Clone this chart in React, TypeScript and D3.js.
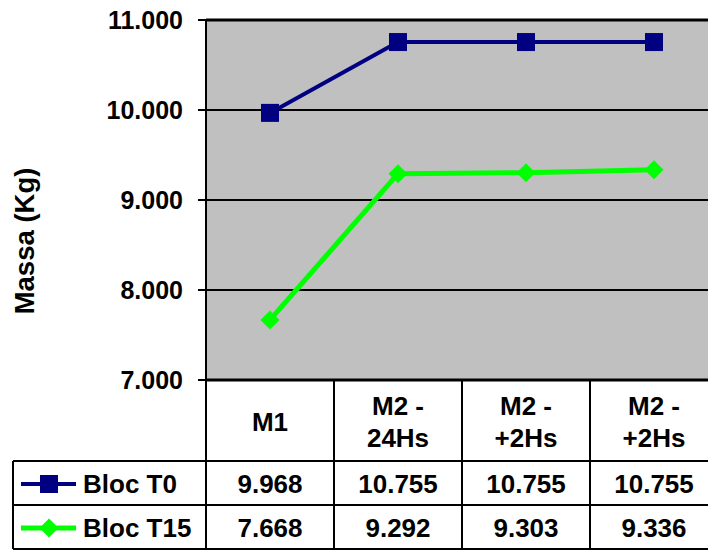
import React from "react";
import * as d3 from "d3";

const categories: string[][] = [["M1"], ["M2 -", "24Hs"], ["M2 -", "+2Hs"], ["M2 -", "+2Hs"]];
const seriesNames = ["Bloc T0", "Bloc T15"];
const blocT0 = [9.968, 10.755, 10.755, 10.755];
const blocT15 = [7.668, 9.292, 9.303, 9.336];
const yTicks = [7, 8, 9, 10, 11];

const W = 708;
const H = 550;
const FONT = "'Liberation Sans', Arial, sans-serif";

export default function App() {
  const plotLeft = 206;
  const plotTop = 20;
  const plotBottom = 380;
  const colWidth = 128;
  const headerBottom = 461;
  const row1Bottom = 505;
  const row2Bottom = 549;
  const legendLeft = 13;

  const idx = categories.map((_, i) => String(i));
  const x = d3
    .scaleBand<string>()
    .domain(idx)
    .range([plotLeft, plotLeft + colWidth * categories.length]);
  const y = d3.scaleLinear().domain([7, 11]).range([plotBottom, plotTop]);
  const cx = (i: number) => (x(String(i)) as number) + x.bandwidth() / 2;

  const line = d3
    .line<number>()
    .x((_, i) => cx(i))
    .y((d) => y(d));

  const fmt = d3.format(".3f");
  const right = plotLeft + colWidth * categories.length;

  const series = [
    { name: seriesNames[0], values: blocT0, color: "#000080", width: 4, marker: "square" },
    { name: seriesNames[1], values: blocT15, color: "#00FF00", width: 5, marker: "diamond" },
  ];

  const marker = (kind: string, px: number, py: number, color: string, key: string) => {
    if (kind === "square") {
      return <rect key={key} x={px - 9} y={py - 9} width={18} height={18} fill={color} />;
    }
    return (
      <path
        key={key}
        d={`M${px},${py - 9.5}L${px + 9.5},${py}L${px},${py + 9.5}L${px - 9.5},${py}Z`}
        fill={color}
      />
    );
  };

  const rowTops = [headerBottom, row1Bottom];
  const rowBottoms = [row1Bottom, row2Bottom];

  return (
    <div style={{ position: "fixed", left: 0, top: 0 }}>
      <svg width={W} height={H} style={{ display: "block", fontFamily: FONT }}>
        <rect x={0} y={0} width={W} height={H} fill="#fff" />
        {/* plot background */}
        <rect x={plotLeft} y={plotTop} width={right - plotLeft} height={plotBottom - plotTop} fill="#C0C0C0" />
        {/* gridlines */}
        {yTicks.map((t) => (
          <line
            key={"g" + t}
            x1={plotLeft}
            x2={right}
            y1={y(t)}
            y2={y(t)}
            stroke="#000"
            strokeWidth={t === 11 || t === 7 ? 3 : 2}
          />
        ))}
        {/* y axis, ticks and labels */}
        <line x1={plotLeft} x2={plotLeft} y1={plotTop} y2={row2Bottom} stroke="#000" strokeWidth={2} />
        {yTicks.map((t) => (
          <g key={"t" + t}>
            <line x1={plotLeft - 8} x2={plotLeft} y1={y(t)} y2={y(t)} stroke="#000" strokeWidth={2} />
            <text
              x={183}
              y={y(t)}
              textAnchor="end"
              dominantBaseline="central"
              fontSize={25}
              fontWeight="bold"
            >
              {fmt(t)}
            </text>
          </g>
        ))}
        <text
          transform={`translate(24,${241}) rotate(-90)`}
          textAnchor="middle"
          dominantBaseline="central"
          fontSize={27.5}
          fontWeight="bold"
        >
          Massa (Kg)
        </text>

        {/* series lines and markers */}
        {series.map((s) => (
          <g key={s.name}>
            <path d={line(s.values) || ""} fill="none" stroke={s.color} strokeWidth={s.width} strokeLinejoin="round" />
            {s.values.map((v, i) => marker(s.marker, cx(i), y(v), s.color, s.name + i))}
          </g>
        ))}

        {/* data table */}
        {idx.map((k) => (
          <line
            key={"c" + k}
            x1={(x(k) as number) + x.bandwidth()}
            x2={(x(k) as number) + x.bandwidth()}
            y1={plotBottom}
            y2={row2Bottom}
            stroke="#000"
            strokeWidth={2}
          />
        ))}
        <line x1={legendLeft} x2={right} y1={headerBottom} y2={headerBottom} stroke="#000" strokeWidth={2} />
        <line x1={legendLeft} x2={right} y1={row1Bottom} y2={row1Bottom} stroke="#000" strokeWidth={2} />
        <line x1={legendLeft} x2={right} y1={row2Bottom} y2={row2Bottom} stroke="#000" strokeWidth={2} />
        <line x1={legendLeft} x2={legendLeft} y1={headerBottom} y2={row2Bottom} stroke="#000" strokeWidth={2} />

        {categories.map((lines, i) => {
          const mid = (plotBottom + headerBottom) / 2 + 1;
          const step = 32;
          const start = mid - ((lines.length - 1) * step) / 2;
          return lines.map((ln, j) => (
            <text
              key={"h" + i + j}
              x={cx(i)}
              y={start + j * step}
              textAnchor="middle"
              dominantBaseline="central"
              fontSize={26}
              fontWeight="bold"
            >
              {ln}
            </text>
          ));
        })}

        {series.map((s, r) => {
          const rowMid = (rowTops[r] + rowBottoms[r]) / 2 + 1;
          return (
            <g key={"row" + s.name}>
              <line x1={21} x2={76} y1={rowMid} y2={rowMid} stroke={s.color} strokeWidth={s.width} />
              {marker(s.marker, 49, rowMid, s.color, "lg" + s.name)}
              <text x={83} y={rowMid} dominantBaseline="central" fontSize={26} fontWeight="bold">
                {s.name}
              </text>
              {s.values.map((v, i) => (
                <text
                  key={"v" + i}
                  x={cx(i)}
                  y={rowMid}
                  textAnchor="middle"
                  dominantBaseline="central"
                  fontSize={26}
                  fontWeight="bold"
                >
                  {fmt(v)}
                </text>
              ))}
            </g>
          );
        })}
      </svg>
    </div>
  );
}
